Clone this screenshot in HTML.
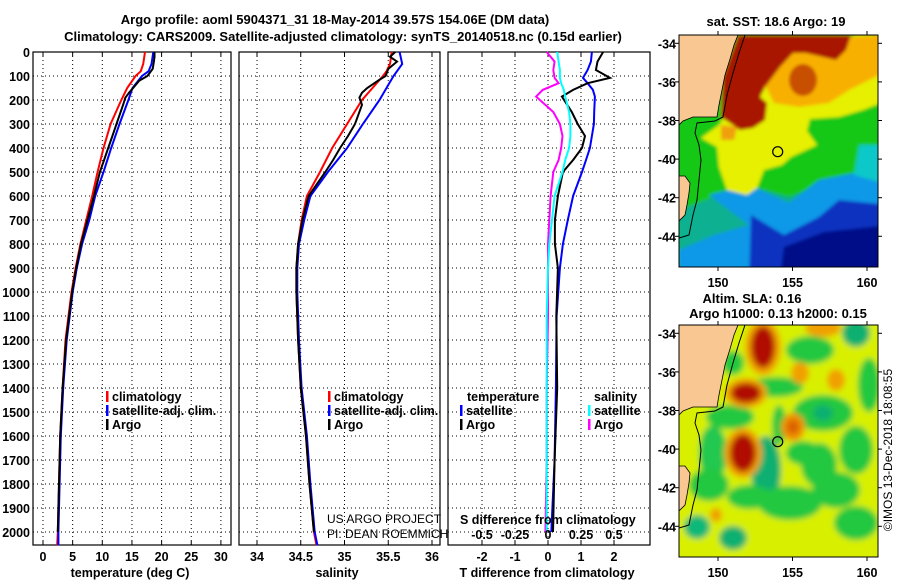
<!DOCTYPE html>
<html><head><meta charset="utf-8"><style>
html,body{margin:0;padding:0;background:#fff;}
svg{display:block;font-family:"Liberation Sans",sans-serif;}
.t{font-weight:bold;font-size:13px;}
.b{font-weight:bold;font-size:12.5px;}
</style></head><body>
<svg id="chart" width="900" height="580" viewBox="0 0 900 580" xmlns="http://www.w3.org/2000/svg">
<text x="335" y="24" text-anchor="middle" class="t" font-size="14">Argo profile: aoml 5904371_31 18-May-2014 39.57S 154.06E (DM data)</text>
<text x="343" y="41" text-anchor="middle" class="t" font-size="14">Climatology: CARS2009. Satellite-adjusted climatology: synTS_20140518.nc (0.15d earlier)</text>
<g id="panels"></g>
<g id="maps"></g>
<text transform="translate(892,450) rotate(-90)" text-anchor="middle" font-size="12">©IMOS 13-Dec-2018 18:08:55</text>
</svg>
<script>
// ---- data ----
const depthTicks=[0,100,200,300,400,500,600,700,800,900,1000,1100,1200,1300,1400,1500,1600,1700,1800,1900,2000];
const tempTicks=[0,5,10,15,20,25,30];
const salTicks=[34,34.5,35,35.5,36];
const tdiffTicks=[-2,-1,0,1,2];
const sdiffTicks=[-0.5,-0.25,0,0.25,0.5];
const climDepth=[0,50,80,100,150,200,300,400,500,600,700,800,900,1000,1200,1400,1600,1800,2000,2055];
const tempClim=[17.2,16.9,16.5,15.6,14.2,13.2,11.4,10.2,9.2,8.3,7.3,6.3,5.5,4.8,3.8,3.3,2.9,2.7,2.5,2.4];
const tempSat=[18.6,18.3,17.8,16.7,15.1,14.4,12.9,11.5,10.2,8.8,7.8,6.6,5.7,5.0,4.0,3.4,3.0,2.8,2.6,2.6];
const salClim=[35.54,35.52,35.48,35.44,35.32,35.2,35.03,34.86,34.72,34.57,34.51,34.47,34.45,34.45,34.47,34.5,34.56,34.6,34.65,34.68];
const salSat=[35.63,35.66,35.6,35.56,35.48,35.4,35.21,35.03,34.81,34.61,34.54,34.48,34.46,34.46,34.48,34.51,34.57,34.61,34.66,34.69];
const argoDepth=[0,20,40,70,100,120,150,170,190,220,300,350,400,450,500,600,700,800,900,1000,1200,1400,1600,1800,2000];
const tempArgo=[18.8,18.8,18.7,18.5,17.6,16.2,15.2,14.5,13.9,13.5,12.4,11.7,11.0,10.3,9.6,8.6,7.5,6.4,5.6,4.9,3.9,3.3,2.9,2.7,2.5];
const salArgo=[35.58,35.52,35.6,35.5,35.47,35.38,35.26,35.2,35.17,35.2,35.12,35.04,34.95,34.87,34.78,34.59,34.52,34.47,34.45,34.45,34.47,34.5,34.56,34.6,34.65];
const diffDepth=[0,40,75,108,130,158,186,250,300,350,400,450,500,600,700,800,900,1100,1400,1700,2000];
const tdiffSat=[1.33,1.3,1.2,1.06,1.2,1.36,1.42,1.4,1.39,1.33,1.27,1.15,1.03,0.76,0.6,0.45,0.36,0.26,0.24,0.2,0.1];
const tdiffArgo=[1.67,1.5,1.45,1.88,1.2,0.76,0.42,0.72,0.9,1.12,1.03,0.76,0.45,0.3,0.21,0.21,0.3,0.25,0.28,0.2,0.15];
const sdiffSat=[0.07,0.08,0.09,0.09,0.1,0.12,0.13,0.16,0.17,0.17,0.16,0.13,0.11,0.05,0.03,0.01,0,-0.01,-0.01,-0.01,-0.01];
const sdiffArgo=[-0.01,0.05,0.04,0.05,0.08,-0.04,-0.09,0.04,0.09,0.11,0.1,0.08,0.04,0.02,0.01,0,0,0,-0.01,-0.01,-0.02];

const NS='http://www.w3.org/2000/svg';
function mk(tag,attrs,parent,text){const e=document.createElementNS(NS,tag);for(const k in attrs)e.setAttribute(k,attrs[k]);if(text!==undefined)e.textContent=text;parent.appendChild(e);return e;}
const yD=d=>52+d*0.24;
const TOP=52,BOT=545;
const G=document.getElementById('panels');

function panel(name,x0,x1,xs,ticks,labels,title,titleX){
  const g=mk('g',{},G);
  
  
  depthTicks.forEach(d=>{
    const l=mk('line',{x1:x0,x2:x1,y1:yD(d),y2:yD(d),stroke:'#000','stroke-width':1,'stroke-dasharray':'1,3'},g);
    
    
  });
  ticks.forEach((v,i)=>{
    const x=xs(v);
    const l=mk('line',{x1:x,x2:x,y1:TOP,y2:BOT,stroke:'#000','stroke-width':1,'stroke-dasharray':'1,3'},g);
    
    
    mk('line',{x1:x,x2:x,y1:BOT,y2:BOT-4,stroke:'#000'},g);
    mk('line',{x1:x,x2:x,y1:TOP,y2:TOP+4,stroke:'#000'},g);
    const t=mk('text',{x:x,y:561,'text-anchor':'middle',class:'b'},g,labels[i]);
    
    
  });
  const r=mk('rect',{x:x0,y:TOP,width:x1-x0,height:BOT-TOP,fill:'none',stroke:'#000','stroke-width':1.2},g);
  
  
  const tt=mk('text',{x:titleX,y:577,'text-anchor':'middle',class:'b'},g,title);
  
  
  return g;
}
function line(g,name,xs,vals,deps,color){
  const pts=vals.map((v,i)=>xs(v).toFixed(1)+','+yD(deps[i]).toFixed(1)).join(' ');
  const p=mk('polyline',{points:pts,fill:'none',stroke:color,'stroke-width':2},g);
  
  
}
function legend(g,x,y,color,label){
  mk('rect',{x:x,y:y-10,width:2.5,height:11,fill:color},g);
  const t=mk('text',{x:x+6,y:y,class:'b'},g,label);
  
  
}
depthTicks.forEach(d=>{
  const t=mk('text',{x:30,y:yD(d)+5,'text-anchor':'end',class:'b'},G,String(d));
  
  
});
const xT=v=>43+v*5.93;
const p1=panel('temperature-panel',33,231,xT,tempTicks,tempTicks.map(String),'temperature (deg C)',130);
line(p1,'temp-climatology-line',xT,tempClim,climDepth,'#f00');
line(p1,'temp-satellite-line',xT,tempSat,climDepth,'#00f');
line(p1,'temp-argo-line',xT,tempArgo,argoDepth,'#000');
legend(p1,106,401,'#f00','climatology');
legend(p1,106,415,'#00f','satellite-adj. clim.');
legend(p1,106,429,'#000','Argo');
const xS=v=>257+(v-34)*87.5;
const p2=panel('salinity-panel',239,440,xS,salTicks,['34','34.5','35','35.5','36'],'salinity',337);
line(p2,'sal-climatology-line',xS,salClim,climDepth,'#f00');
line(p2,'sal-satellite-line',xS,salSat,climDepth,'#00f');
line(p2,'sal-argo-line',xS,salArgo,argoDepth,'#000');
legend(p2,328,401,'#f00','climatology');
legend(p2,328,415,'#00f','satellite-adj. clim.');
legend(p2,328,429,'#000','Argo');
let t1=mk('text',{x:327,y:523,'font-size':12},p2,'US ARGO PROJECT');


let t2=mk('text',{x:327,y:538,'font-size':12},p2,'PI: DEAN ROEMMICH');


const xTd=v=>548+v*33;
const xSd=v=>548+v*132;
const p3=panel('difference-panel',448,650,xTd,tdiffTicks,tdiffTicks.map(String),'T difference from climatology',547);
line(p3,'tdiff-satellite-line',xTd,tdiffSat,diffDepth,'#00f');
line(p3,'tdiff-argo-line',xTd,tdiffArgo,diffDepth,'#000');
line(p3,'sdiff-argo-line',xSd,sdiffArgo,diffDepth,'#f0f');
line(p3,'sdiff-satellite-line',xSd,sdiffSat,diffDepth,'#0ff');
let lt=mk('text',{x:467,y:401,class:'b'},p3,'temperature');
let ls=mk('text',{x:594,y:401,class:'b'},p3,'salinity');
legend(p3,460,415,'#00f','satellite');
legend(p3,460,429,'#000','Argo');
legend(p3,588,415,'#0ff','satellite');
legend(p3,588,429,'#f0f','Argo');
let sd=mk('text',{x:460,y:524,class:'b'},p3,'S difference from climatology');
sdiffTicks.forEach(v=>{
  const t=mk('text',{x:xSd(v),y:539,'text-anchor':'middle',class:'b'},p3,String(v));
  
  
});

// ---- maps ----
const M=document.getElementById('maps');
function mapFrame(name,y0,titleLines){
  const g=mk('g',{},M);
  
  
  const inner=mk('g',{transform:'translate(679,'+y0+')'},g);
  const cp=mk('clipPath',{id:'clip'+y0},inner);
  mk('rect',{width:199,height:232},cp);
  const body=mk('g',{'clip-path':'url(#clip'+y0+')'},inner);
  titleLines.forEach(tl=>{
    const t=mk('text',{x:tl[1],y:tl[2],'text-anchor':'middle',class:'t'},g,tl[0]);
    
    
  });
  return {g,inner,body,y0};
}
function finishMap(m){
  const {inner,body}=m;
  mk('path',{d:'M0,0 L59,0 L55,10 L51,24 L46,40 L43,55 L40,70 L38,82 L30,82 L14,82 L4,86 L0,90 Z',fill:'#f9c892'},body);
  mk('path',{d:'M0,141 L6,141 L11,148 L10,158 L8,170 L6,180 L0,186 Z',fill:'#f9c892'},body);
  mk('path',{d:'M66,0 L60,18 L54,38 L48,60 L44,82 L36,86 L18,88 L16,98 L20,110 L22,125 L20,145 L18,165 L14,180 L10,200 L0,203',fill:'none',stroke:'#000','stroke-width':1},body);
  mk('path',{d:'M59,0 L55,10 L51,24 L46,40 L43,55 L40,70 L38,82 L14,82 L4,86 L0,90 M0,141 L6,141 L11,148 L10,158 L8,170 L6,180 L0,186',fill:'none',stroke:'#000','stroke-width':0.8},body);
  mk('circle',{cx:98.7,cy:116.7,r:5,fill:'none',stroke:'#000','stroke-width':1.2},body);
  mk('rect',{x:0,y:0,width:199,height:232,fill:'none',stroke:'#000'},inner);
  [-34,-36,-38,-40,-42,-44].forEach(lat=>{
    const y=8.3+(-34-lat)*19.3;
    mk('line',{x1:-4,x2:0,y1:y,y2:y,stroke:'#000'},inner);
    mk('line',{x1:199,x2:203,y1:y,y2:y,stroke:'#000'},inner);
    const t=mk('text',{x:-3,y:y+5,'text-anchor':'end',class:'b'},inner,String(lat));
    
    
  });
  [150,155,160].forEach(lon=>{
    const x=39+(lon-150)*14.9;
    mk('line',{x1:x,x2:x,y1:-4,y2:0,stroke:'#000'},inner);
    mk('line',{x1:x,x2:x,y1:232,y2:236,stroke:'#000'},inner);
    const t=mk('text',{x:x,y:252,'text-anchor':'middle',class:'b'},inner,String(lon));
    
    
  });
}
const defs=mk('defs',{},M);
const f=mk('filter',{id:'bl',x:'-50%',y:'-50%',width:'200%',height:'200%'},defs);
mk('feGaussianBlur',{stdDeviation:3},f);
const f2=mk('filter',{id:'bl2',x:'-20%',y:'-20%',width:'140%',height:'140%'},defs);
mk('feGaussianBlur',{stdDeviation:1.5},f2);

// SST map
const m1=mapFrame('sst-map',35,[['sat. SST: 18.6 Argo: 19',776,26]]);
const b1=mk('g',{filter:'url(#bl2)'},m1.body);
mk('rect',{x:-10,y:-10,width:220,height:260,fill:'#18c818'},b1);
mk('path',{d:'M0,175 L40,160 L75,152 L110,162 L140,150 L175,140 L210,145 L210,250 L0,250Z',fill:'#10b090'},b1);
mk('path',{d:'M30,160 L70,150 L110,168 L140,145 L175,138 L210,142 L210,250 L0,250 L0,215 L35,200 L70,190Z',fill:'#0898e8'},b1);
mk('path',{d:'M180,110 L210,110 L210,150 L175,140Z',fill:'#08c8c8'},b1);
mk('path',{d:'M72,180 L105,200 L140,182 L160,165 L210,170 L210,250 L70,250Z',fill:'#0830c0'},b1);
mk('path',{d:'M105,212 L145,197 L210,190 L210,250 L100,250Z',fill:'#000888'},b1);
mk('path',{d:'M45,82 L81,62 L88,18 L127,15 L178,0 L210,0 L210,65 L184,75 L160,82 L131,84 L128,96 L138,110 L112,122 L103,130 L85,135 L78,153 L68,160 L48,155 L40,132 L38,112 L22,103 L40,90Z',fill:'#e6f000'},b1);
mk('path',{d:'M88,22 L170,2 L210,0 L210,35 L190,45 L170,55 L150,68 L120,72 L95,68 L86,50Z',fill:'#f8b000'},b1);
mk('path',{d:'M42,90 L58,92 L55,105 L42,105Z',fill:'#f0a010'},b1);
mk('path',{d:'M59,0 L172,0 L167,15 L157,25 L144,22 L127,18 L114,18 L101,32 L86,52 L81,62 L88,68 L86,85 L74,93 L61,95 L51,88 L42,82 L43,62 L44,42 L51,22Z',fill:'#a81200'},b1);
mk('ellipse',{cx:124,cy:45,rx:14,ry:16,fill:'#c85000'},b1);
finishMap(m1);

// SLA map
const m2=mapFrame('sla-map',325,[['Altim. SLA: 0.16',752,303],['Argo h1000: 0.13 h2000: 0.15',778,318]]);
const b2=mk('g',{filter:'url(#bl)'},m2.body);
mk('rect',{x:-10,y:-10,width:220,height:260,fill:'#d8f000'},b2);
const greens=[[177,8,14,14,'#10b070'],[144,88,30,18,'#20c840'],[144,88,10,8,'#10b070'],[87,145,15,34,'#10b070'],[34,128,14,28,'#20c850'],[54,213,14,12,'#10b070'],[18,202,13,12,'#10b878'],[131,25,24,14,'#20c840'],[157,165,24,18,'#20c840'],[177,125,17,24,'#20c840'],[51,92,24,12,'#20c840'],[111,178,32,17,'#20c840'],[177,198,22,17,'#20c840'],[124,128,17,12,'#20c840'],[97,62,27,10,'#20c840'],[54,38,11,12,'#20c840'],[140,140,18,22,'#20c840'],[30,160,20,16,'#20c840'],[70,172,22,12,'#20c840'],[100,100,7,20,'#20c840'],[190,60,11,27,'#20c840']];
greens.forEach(a=>mk('ellipse',{cx:a[0],cy:a[1],rx:a[2],ry:a[3],fill:a[4]},b2));
const reds=[[84,22,18,28,'#f0a000'],[84,22,12,21,'#b01000'],[67,68,21,15,'#f0a000'],[67,68,15,10,'#b01000'],[64,128,19,25,'#f0a000'],[64,128,13,19,'#b01000'],[114,102,12,14,'#f09000'],[114,102,6,7,'#d86000'],[121,48,9,11,'#f0a000'],[157,55,9,11,'#f0a000'],[144,3,18,9,'#f0a000'],[37,190,6,7,'#f0a000']];
reds.forEach(a=>mk('ellipse',{cx:a[0],cy:a[1],rx:a[2],ry:a[3],fill:a[4]},b2));
finishMap(m2);
</script>
</body></html>
